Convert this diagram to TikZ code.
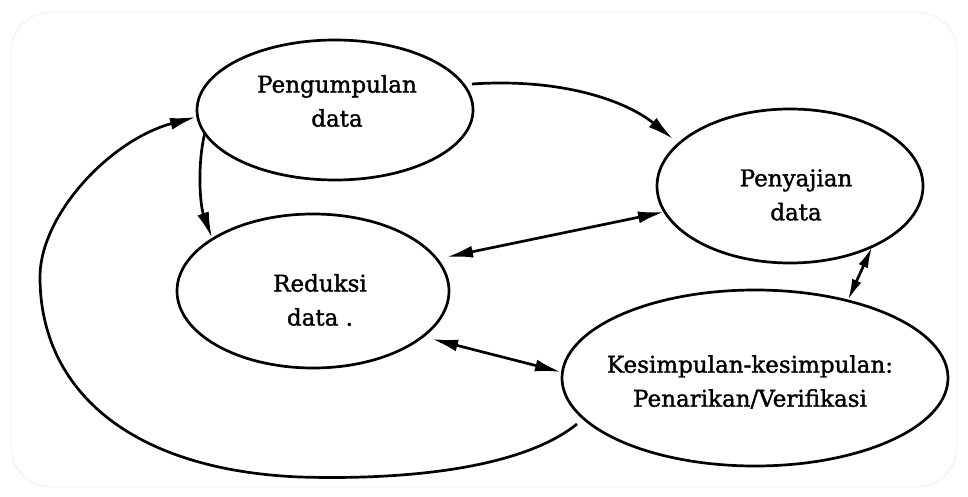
\documentclass[tikz,border=0pt]{standalone}
\usepackage{fontspec}
\newfontfamily\diafont{DejaVu Serif}[FakeBold=1.5]
\usetikzlibrary{arrows.meta,shapes.geometric}
\begin{document}
\begin{tikzpicture}[x=1pt,y=-1pt,
  bubble/.style={draw=black,ellipse,line width=2.7pt,inner sep=0pt},
  txt/.style={align=center,font=\diafont\fontsize{23}{34}\selectfont,inner sep=0pt},
  tip/.tip={Latex[length=26pt,width=12pt]},
  smalltip/.tip={Latex[length=21pt,width=10pt]},
  link/.style={draw=black,line width=2.7pt,-tip},
  blink/.style={draw=black,line width=2.7pt,tip-tip},
  sblink/.style={draw=black,line width=2.7pt,smalltip-smalltip}]
\useasboundingbox (0,0) rectangle (968,497);
\draw[black!7,line width=0.8pt,rounded corners=40pt] (11,12) rectangle (957,487);
\node[bubble,minimum width=276pt,minimum height=140pt] (peng) at (335,110) {};
\node[bubble,minimum width=266pt,minimum height=154pt] (peny) at (790,186) {};
\node[bubble,minimum width=272pt,minimum height=154pt] (red) at (313,291) {};
\node[bubble,minimum width=386pt,minimum height=176pt] (kes) at (755,378) {};
\node[txt] (tpeng) at (337,101) {Pengumpulan\\data};
\node[txt] (tpeny) at (796,195) {Penyajian\\data};
\node[txt] (tred) at (320,300) {Reduksi\\data .};
\node[txt] (tkes) at (750,382) {Kesimpulan-kesimpulan:\\Penarikan/Verifikasi};
\coordinate (a1) at (472,84);
\coordinate (a2) at (673,139);
\draw[link] (a1) .. controls (560,78) and (625,100) .. (a2);
\coordinate (b1) at (205,132);
\coordinate (b2) at (212,238);
\draw[link] (b1) .. controls (197,165) and (200,205) .. (b2);
\coordinate (c1) at (447,257);
\coordinate (c2) at (664,212);
\draw[blink] (c1) -- (c2);
\coordinate (d1) at (432,339);
\coordinate (d2) at (561,372);
\draw[blink] (d1) -- (d2);
\coordinate (e1) at (848,300);
\coordinate (e2) at (872,247);
\draw[sblink] (e1) -- (e2);
\coordinate (f1) at (577,424);
\coordinate (f2) at (196,117);
\draw[link] (f1) .. controls (520,470) and (400,480) .. (300,477)
  .. controls (130,470) and (40,390) .. (40,277)
  .. controls (40,215) and (110,140) .. (f2);
\end{tikzpicture}
\end{document}
